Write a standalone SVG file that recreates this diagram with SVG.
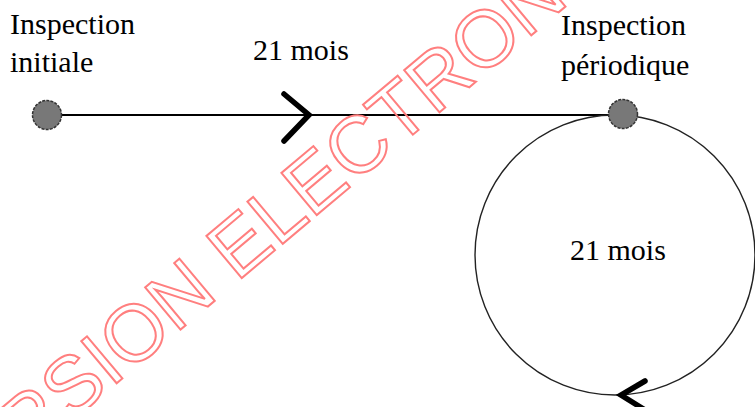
<svg xmlns="http://www.w3.org/2000/svg" width="755" height="407" viewBox="0 0 755 407">
<style>
.lbl{font-family:"Liberation Serif","Times New Roman","DejaVu Serif",serif;font-size:30px;fill:#000}
.node{fill:#787878;stroke:#333;stroke-width:1.5;stroke-dasharray:3 1.2}
.chev{fill:none;stroke:#000;stroke-width:5.5;stroke-linecap:round;stroke-linejoin:miter}
.wm{font-family:"Liberation Sans",Arial,sans-serif;font-size:80px;fill:none;stroke:#ff7f7f;stroke-width:2}
</style>
<rect width="755" height="407" fill="#fff"/>
<g id="connectors">
<line x1="47" y1="115" x2="623" y2="115" stroke="#000" stroke-width="2"/>
<path class="chev" d="M284,94 L309,115 L284,141"/>
<circle cx="615" cy="255" r="140" fill="none" stroke="#222" stroke-width="1.4"/>
<path class="chev" d="M645,381 L621,395 L645,410"/>
<text class="lbl" x="253" y="60">21 mois</text>
<text class="lbl" x="570" y="260">21 mois</text>
</g>
<g id="node-initiale">
<circle class="node" cx="47" cy="115" r="14.5"/>
<text class="lbl" x="10" y="34">Inspection</text>
<text class="lbl" x="10" y="72">initiale</text>
</g>
<g id="node-periodique">
<circle class="node" cx="623" cy="114" r="14.5"/>
<text class="lbl" x="561" y="35">Inspection</text>
<text class="lbl" x="561" y="75">périodique</text>
</g>
<text class="wm" transform="translate(-56,528) rotate(-40)">VERSION ELECTRONIQUE</text>
</svg>
